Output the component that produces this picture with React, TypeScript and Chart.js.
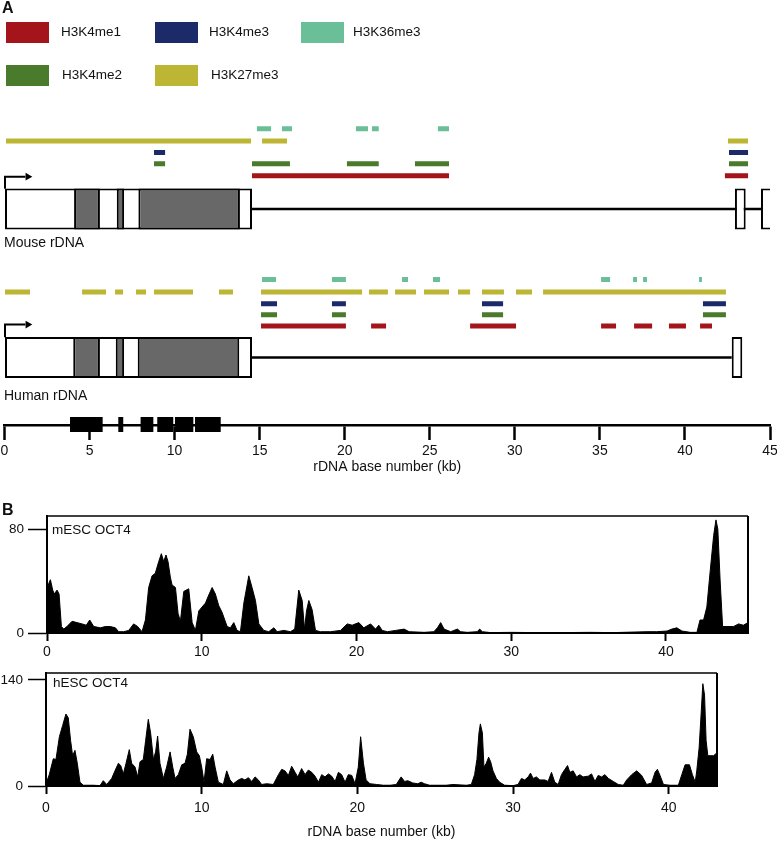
import React, { useEffect, useRef } from 'react';
import { Chart, registerables } from 'chart.js';

Chart.register(...registerables);

const FONT_FAMILY = '"Liberation Sans", Arial, Helvetica, sans-serif';
Chart.defaults.font.family = FONT_FAMILY;
Chart.defaults.color = '#111';

// ---------------- Panel A data ----------------
const MARK_LABELS = ['H3K4me1', 'H3K4me3', 'H3K36me3', 'H3K4me2', 'H3K27me3'];
const MARK_COLORS = ['#a3151a', '#1c2a6a', '#6bbf98', '#4a7b2c', '#bcb634'];

// Mouse rDNA histone mark segments, [start kb, end kb]
const MOUSE_H3K4ME1 = [[14.55, 26.13], [42.35, 43.71]];
const MOUSE_H3K4ME3 = [[8.79, 9.44], [42.59, 43.71]];
const MOUSE_H3K36ME3 = [[14.84, 15.67], [16.31, 16.9], [20.66, 21.37], [21.6, 22.0], [25.48, 26.13]];
const MOUSE_H3K4ME2 = [[8.79, 9.44], [14.55, 16.78], [20.13, 22.0], [24.13, 26.13], [42.59, 43.71]];
const MOUSE_H3K27ME3 = [[0.09, 14.49], [15.14, 16.61], [42.53, 43.71]];

// Human rDNA histone mark segments, [start kb, end kb]
const HUMAN_H3K4ME1 = [[15.08, 20.07], [21.55, 22.43], [27.37, 30.07], [35.07, 35.95], [37.01, 38.07], [39.06, 40.06], [40.89, 41.59]];
const HUMAN_H3K4ME3 = [[15.08, 16.02], [19.25, 20.07], [28.07, 29.31], [41.06, 42.41]];
const HUMAN_H3K36ME3 = [[15.14, 15.96], [19.25, 20.07], [23.37, 23.72], [25.19, 25.6], [35.07, 35.6], [36.95, 37.18], [37.54, 37.77], [40.83, 41.0]];
const HUMAN_H3K4ME2 = [[15.08, 16.02], [19.25, 20.07], [28.07, 29.31], [41.06, 42.41]];
const HUMAN_H3K27ME3 = [[0.03, 1.5], [4.56, 5.97], [6.5, 6.97], [7.73, 8.32], [8.79, 11.08], [12.61, 13.43], [15.08, 21.02], [21.43, 22.54], [22.96, 24.19], [24.66, 26.13], [26.66, 27.37], [28.07, 29.36], [30.07, 31.01], [31.66, 42.41]];

// Gene structures (kb)
const MOUSE_TRANSCRIBED = [[0, 14.55]];
const MOUSE_RRNA = [[4.09, 5.61], [6.6, 7.03], [7.87, 13.84]];
const MOUSE_DOWNSTREAM = [[42.94, 43.57], [44.47, 45.14]];
const MOUSE_SPACER = [[14.55, 44.47]];
const HUMAN_TRANSCRIBED = [[0, 14.55]];
const HUMAN_RRNA = [[4.04, 5.61], [6.54, 7.03], [7.83, 13.8]];
const HUMAN_DOWNSTREAM = [[42.75, 43.37]];
const HUMAN_SPACER = [[14.55, 42.75]];
const TSS_ARROW_KB = [0.03, 1.23];
const TSS_HEAD_KB = 1.37;

// Scale bar blocks on the kb axis
const SCALE_BLOCKS = [[3.85, 5.77], [6.69, 6.98], [8.0, 8.75], [8.98, 9.92], [10.02, 11.1], [11.2, 12.71]];
const KB_TICKS_A = [0, 5, 10, 15, 20, 25, 30, 35, 40, 45];

// ---------------- Panel B data ----------------
const KB_TICKS_B = [0, 10, 20, 30, 40];
const MESC_Y_TICKS = [0, 80];
const HESC_Y_TICKS = [0, 140];

// mESC OCT4 ChIP-seq coverage, [kb, reads]
const MESC_OCT4 = [
  [0, 33], [0.11, 38], [0.22, 41], [0.37, 33], [0.47, 30], [0.65, 33], [0.78, 30], [0.93, 5], [1.08, 3], [1.29, 5],
  [1.62, 9], [1.94, 8], [2.26, 7], [2.54, 6], [2.76, 10], [3.02, 5], [3.45, 4], [3.77, 5], [4.09, 5], [4.42, 4],
  [4.63, 1], [4.96, 1], [5.28, 2], [5.6, 7], [5.86, 5], [6.14, 1], [6.36, 10], [6.57, 35], [6.79, 44], [7.0, 46],
  [7.22, 55], [7.39, 61], [7.54, 55], [7.69, 60], [7.82, 55], [7.97, 43], [8.08, 37], [8.3, 35], [8.47, 15], [8.62, 9],
  [8.84, 32], [9.16, 34], [9.38, 8], [9.59, 2], [9.81, 17], [10.02, 20], [10.24, 23], [10.41, 28], [10.67, 35], [10.88, 30],
  [11.1, 21], [11.31, 16], [11.64, 5], [11.85, 4], [12.07, 8], [12.28, 2], [12.5, 1], [12.72, 23], [13.04, 44], [13.25, 35],
  [13.47, 25], [13.69, 7], [14.01, 2], [14.33, 1], [14.66, 4], [14.87, 1], [15.3, 2], [15.73, 1], [16.01, 3], [16.27, 33],
  [16.49, 25], [16.64, 3], [16.77, 17], [16.92, 25], [17.13, 18], [17.35, 2], [17.67, 1], [18.32, 1], [18.97, 2], [19.4, 7],
  [19.72, 6], [20.15, 8], [20.47, 4], [20.91, 7], [21.23, 3], [21.44, 6], [21.66, 2], [22.0, 1], [22.54, 2], [23.08, 3],
  [23.4, 1], [24.37, 0.5], [25.0, 1], [25.23, 4], [25.44, 8], [25.66, 3], [26.09, 1], [26.52, 3], [26.73, 1], [27.16, 0.5],
  [27.8, 1], [27.96, 3], [28.13, 1], [28.67, 0.3], [30.0, 0.5], [32.3, 0.2], [35.1, 0.5], [36.6, 0.3], [38.77, 1], [39.4, 1],
  [40.06, 1.5], [40.38, 3], [40.7, 4], [41.03, 1.5], [41.57, 0.5], [42.0, 0.5], [42.2, 10], [42.43, 10], [42.64, 20], [42.86, 48],
  [43.08, 75], [43.23, 87], [43.35, 80], [43.5, 40], [43.66, 5], [43.94, 5], [44.37, 5], [44.69, 7], [45.0, 6], [45.3, 8],
];

// hESC OCT4 ChIP-seq coverage, [kb, reads]
const HESC_OCT4 = [
  [0, 3], [0.21, 15], [0.47, 36], [0.64, 35], [0.86, 65], [1.07, 80], [1.28, 95], [1.43, 90], [1.58, 60], [1.71, 40],
  [1.86, 47], [2.01, 30], [2.18, 5], [2.4, 1], [3.04, 1], [3.47, 0.5], [3.68, 7], [3.9, 2], [4.22, 10], [4.43, 20],
  [4.65, 30], [4.8, 27], [4.97, 16], [5.14, 30], [5.35, 48], [5.5, 30], [5.72, 25], [5.89, 12], [6.04, 32], [6.25, 35],
  [6.4, 60], [6.57, 88], [6.72, 70], [6.9, 35], [7.04, 45], [7.17, 66], [7.32, 30], [7.54, 10], [7.75, 25], [7.97, 45],
  [8.14, 25], [8.29, 10], [8.5, 15], [8.72, 28], [8.93, 30], [9.08, 42], [9.25, 75], [9.46, 65], [9.68, 45], [9.85, 40],
  [10.0, 25], [10.15, 5], [10.32, 36], [10.54, 35], [10.71, 42], [10.86, 25], [11.07, 5], [11.39, 2], [11.61, 20], [11.82, 8],
  [12.03, 3], [12.36, 8], [12.57, 10], [12.78, 8], [13.0, 11], [13.21, 6], [13.43, 12], [13.64, 8], [13.85, 2], [14.18, 3],
  [14.6, 2], [14.93, 15], [15.14, 22], [15.35, 20], [15.57, 14], [15.78, 26], [16.0, 18], [16.17, 12], [16.42, 23], [16.64, 15],
  [16.85, 21], [17.07, 18], [17.28, 13], [17.5, 5], [17.71, 15], [17.92, 12], [18.14, 16], [18.35, 13], [18.57, 6], [18.78, 18],
  [18.99, 15], [19.21, 5], [19.42, 15], [19.64, 14], [19.85, 3], [20.06, 25], [20.21, 65], [20.39, 30], [20.56, 8], [20.81, 3],
  [21.24, 2], [21.67, 1], [22.1, 1], [22.5, 2], [22.81, 12], [23.03, 6], [23.24, 7], [23.56, 4], [23.88, 3], [24.1, 5],
  [24.31, 3], [24.64, 1], [25.7, 1], [26.14, 2], [27.0, 1], [27.32, 2], [27.53, 15], [27.68, 35], [27.81, 70], [27.9, 82],
  [28.03, 70], [28.13, 25], [28.28, 30], [28.43, 38], [28.56, 32], [28.71, 20], [28.93, 10], [29.14, 5], [29.46, 1], [30.0, 0.5],
  [30.32, 2], [30.54, 10], [30.75, 8], [30.97, 12], [31.12, 17], [31.29, 10], [31.5, 12], [31.72, 8], [32.04, 8], [32.25, 6],
  [32.47, 18], [32.68, 5], [32.9, 2], [33.11, 15], [33.33, 22], [33.5, 27], [33.65, 18], [33.86, 20], [34.08, 12], [34.29, 15],
  [34.5, 12], [34.83, 13], [35.04, 16], [35.26, 6], [35.47, 14], [35.69, 12], [35.9, 15], [36.12, 10], [36.44, 6], [36.76, 2],
  [37.08, 1], [37.3, 8], [37.62, 15], [37.94, 20], [38.26, 14], [38.58, 2], [38.9, 4], [39.12, 18], [39.27, 22], [39.44, 14],
  [39.66, 2], [40.09, 1], [40.62, 1], [40.84, 15], [41.05, 28], [41.33, 28], [41.52, 15], [41.7, 5], [41.8, 20], [41.95, 50],
  [42.08, 95], [42.19, 135], [42.3, 120], [42.4, 60], [42.51, 40], [42.66, 40], [42.88, 40], [43.05, 43], [43.1, 43],
];

// ---------------- Layout (pixel rows of panel A; y scale is in page pixels) ----------------
const A_ROWS = {
  mouse: { H3K36me3: 125.5, H3K27me3: 138, H3K4me3: 149.5, H3K4me2: 161, H3K4me1: 173, gene: 206.7, tssTop: 174 },
  human: { H3K36me3: 278, H3K27me3: 290.7, H3K4me3: 302.5, H3K4me2: 313.5, H3K4me1: 325, gene: 356.7, tssTop: 323.5 },
  scale: 424.5,
};
const GENE_THICKNESS = 41;
const GRAY = '#686868';
const LEGEND_SLOTS = [
  { x: 6, y: 22, tx: 61 },
  { x: 155, y: 22, tx: 209 },
  { x: 301, y: 22, tx: 353 },
  { x: 6, y: 65, tx: 62 },
  { x: 155, y: 65, tx: 211 },
];

const MOUSE_MARKS: Record<string, number[][]> = {
  H3K4me1: MOUSE_H3K4ME1, H3K4me3: MOUSE_H3K4ME3, H3K36me3: MOUSE_H3K36ME3, H3K4me2: MOUSE_H3K4ME2, H3K27me3: MOUSE_H3K27ME3,
};
const HUMAN_MARKS: Record<string, number[][]> = {
  H3K4me1: HUMAN_H3K4ME1, H3K4me3: HUMAN_H3K4ME3, H3K36me3: HUMAN_H3K36ME3, H3K4me2: HUMAN_H3K4ME2, H3K27me3: HUMAN_H3K27ME3,
};

type TextItem = { text: string; x: number; y: number; size: number; bold?: boolean };

const segPoints = (segs: number[][], y: number) =>
  segs.flatMap(([s, e]) => [{ x: s, y }, { x: e, y }, { x: e, y: null as any }]);

const lineDs = (segs: number[][], y: number, color: string, width: number, order: number) => ({
  type: 'line',
  data: segPoints(segs, y),
  borderColor: color,
  backgroundColor: color,
  borderWidth: width,
  borderCapStyle: 'butt',
  pointRadius: 0,
  spanGaps: false,
  fill: false,
  clip: false,
  order,
});

const textPlugin = (id: string, items: TextItem[], legend: boolean) => ({
  id,
  afterDraw(chart: any) {
    const ctx = chart.ctx;
    ctx.save();
    ctx.textBaseline = 'middle';
    ctx.textAlign = 'left';
    if (legend) {
      LEGEND_SLOTS.forEach((slot, i) => {
        ctx.fillStyle = MARK_COLORS[i];
        ctx.fillRect(slot.x, slot.y, 43, 21);
        ctx.fillStyle = '#111';
        ctx.font = `13.5px ${FONT_FAMILY}`;
        ctx.fillText(MARK_LABELS[i], slot.tx, slot.y + 10.5);
      });
    }
    ctx.fillStyle = '#111';
    for (const it of items) {
      ctx.font = `${it.bold ? 'bold ' : ''}${it.size}px ${FONT_FAMILY}`;
      ctx.fillText(it.text, it.x, it.y);
    }
    ctx.restore();
  },
});

const framePlugin = {
  id: 'frame',
  afterDatasetsDraw(chart: any) {
    const { ctx, chartArea: a } = chart;
    ctx.save();
    ctx.strokeStyle = '#000';
    ctx.lineWidth = 1.5;
    ctx.beginPath();
    ctx.moveTo(a.left, a.top);
    ctx.lineTo(a.right, a.top);
    ctx.stroke();
    ctx.lineWidth = 2;
    ctx.beginPath();
    ctx.moveTo(a.right, a.top);
    ctx.lineTo(a.right, a.bottom);
    ctx.stroke();
    ctx.restore();
  },
};

function panelAConfig(): any {
  const datasets: any[] = [];
  // spacer lines (beneath boxes)
  datasets.push(lineDs(MOUSE_SPACER, A_ROWS.mouse.gene, '#000', 2.5, 10));
  datasets.push(lineDs(HUMAN_SPACER, A_ROWS.human.gene, '#000', 2.5, 10));
  // gene boxes
  const bars: any[] = [];
  const addBars = (segs: number[][], y: number, fill: string) =>
    segs.forEach((s) => bars.push({ x: s, y, fill }));
  addBars([...MOUSE_TRANSCRIBED, ...MOUSE_DOWNSTREAM], A_ROWS.mouse.gene, '#fff');
  addBars(MOUSE_RRNA, A_ROWS.mouse.gene, GRAY);
  addBars([...HUMAN_TRANSCRIBED, ...HUMAN_DOWNSTREAM], A_ROWS.human.gene, '#fff');
  addBars(HUMAN_RRNA, A_ROWS.human.gene, GRAY);
  datasets.push({
    type: 'bar',
    indexAxis: 'y',
    data: bars,
    barThickness: GENE_THICKNESS,
    borderWidth: 2,
    borderColor: '#000',
    borderSkipped: false,
    inflateAmount: 0,
    backgroundColor: (c: any) => (c.raw && c.raw.fill) || '#fff',
    order: 5,
  });
  // TSS arrows
  [A_ROWS.mouse, A_ROWS.human].forEach((row) => {
    const boxTop = row.gene - GENE_THICKNESS / 2;
    datasets.push({
      type: 'line',
      data: [
        { x: TSS_ARROW_KB[0], y: boxTop },
        { x: TSS_ARROW_KB[0], y: row.tssTop },
        { x: TSS_ARROW_KB[1], y: row.tssTop },
      ],
      borderColor: '#000',
      borderWidth: 2,
      borderJoinStyle: 'miter',
      pointRadius: 0,
      fill: false,
      clip: false,
      order: 1,
    });
    datasets.push({
      type: 'line',
      data: [{ x: TSS_HEAD_KB, y: row.tssTop }],
      showLine: false,
      pointStyle: 'triangle',
      rotation: 90,
      pointRadius: 4.5,
      pointBackgroundColor: '#000',
      pointBorderColor: '#000',
      pointBorderWidth: 0,
      clip: false,
      order: 1,
    });
  });
  // histone mark tracks
  MARK_LABELS.forEach((m, i) => {
    datasets.push(lineDs(MOUSE_MARKS[m], (A_ROWS.mouse as any)[m], MARK_COLORS[i], 5, 2));
    datasets.push(lineDs(HUMAN_MARKS[m], (A_ROWS.human as any)[m], MARK_COLORS[i], 5, 2));
  });
  // scale bar blocks on axis
  datasets.push(lineDs(SCALE_BLOCKS, A_ROWS.scale, '#000', 15, 0));

  const texts: TextItem[] = [
    { text: 'A', x: 2, y: 8.5, size: 16, bold: true },
    { text: 'Mouse rDNA', x: 4, y: 243.5, size: 14 },
    { text: 'Human rDNA', x: 4, y: 396, size: 14 },
  ];

  return {
    type: 'line',
    data: { datasets },
    options: {
      responsive: false,
      animation: false,
      events: [],
      layout: { padding: { left: 4.5, right: 7, top: 0, bottom: 0 } },
      plugins: { legend: { display: false }, tooltip: { enabled: false } },
      scales: {
        x: {
          type: 'linear',
          min: 0,
          max: 45,
          offset: false,
          stacked: false,
          afterBuildTicks: (s: any) => {
            s.ticks = KB_TICKS_A.map((v) => ({ value: v }));
          },
          afterFit: (s: any) => {
            s.height = 55;
            s.paddingRight = 0;
            s.paddingLeft = 0;
          },
          ticks: { font: { size: 14 }, padding: 3, maxRotation: 0, autoSkip: false, color: '#111' },
          grid: { offset: false, drawOnChartArea: false, tickLength: 15, tickWidth: 2.5, tickColor: '#000' },
          border: { display: true, color: '#000', width: 2.5 },
          title: {
            display: true,
            text: 'rDNA base number (kb)',
            font: { size: 14 },
            color: '#111',
            padding: { top: 0, bottom: 4 },
          },
        },
        y: { type: 'linear', min: 0, max: 425, reverse: true, display: false, offset: false, grid: { offset: false } },
      },
    },
    plugins: [textPlugin('panelAText', texts, true)],
  };
}

type ProfileOpts = {
  points: number[][];
  xMax: number;
  yMax: number;
  yTicks: number[];
  padTop: number;
  padRight: number;
  xAxisHeight: number;
  yAxisWidth: number;
  xTickPadding: number;
  yTickLength: number;
  yTickPadding: number;
  withTitle: boolean;
  texts: TextItem[];
};

function profileConfig(o: ProfileOpts): any {
  return {
    type: 'line',
    data: {
      datasets: [
        {
          data: o.points.map(([x, y]) => ({ x, y })),
          borderColor: '#000',
          backgroundColor: '#000',
          borderWidth: 1,
          pointRadius: 0,
          fill: 'origin',
          tension: 0,
        },
      ],
    },
    options: {
      responsive: false,
      animation: false,
      events: [],
      layout: { padding: { left: 0, right: o.padRight, top: o.padTop, bottom: 0 } },
      plugins: { legend: { display: false }, tooltip: { enabled: false } },
      scales: {
        x: {
          type: 'linear',
          min: 0,
          max: o.xMax,
          offset: false,
          afterBuildTicks: (s: any) => {
            s.ticks = KB_TICKS_B.map((v) => ({ value: v }));
          },
          afterFit: (s: any) => {
            s.height = o.xAxisHeight;
          },
          ticks: { font: { size: 14 }, padding: o.xTickPadding, maxRotation: 0, autoSkip: false, color: '#111' },
          grid: { offset: false, drawOnChartArea: false, tickLength: 8, tickWidth: 2, tickColor: '#000' },
          border: { display: true, color: '#000', width: 2 },
          title: {
            display: o.withTitle,
            text: 'rDNA base number (kb)',
            font: { size: 14 },
            color: '#111',
            padding: { top: 0, bottom: 0 },
          },
        },
        y: {
          type: 'linear',
          min: 0,
          max: o.yMax,
          offset: false,
          afterBuildTicks: (s: any) => {
            s.ticks = o.yTicks.map((v) => ({ value: v }));
          },
          afterFit: (s: any) => {
            s.width = o.yAxisWidth;
          },
          ticks: { font: { size: 13.5 }, padding: o.yTickPadding, color: '#111' },
          grid: { offset: false, drawOnChartArea: false, tickLength: o.yTickLength, tickWidth: 1.5, tickColor: '#000' },
          border: { display: true, color: '#000', width: 2 },
        },
      },
    },
    plugins: [framePlugin, textPlugin('profileText', o.texts, false)],
  };
}

function ChartCanvas({ make, left, top, width, height }: { make: () => any; left: number; top: number; width: number; height: number }) {
  const ref = useRef<HTMLCanvasElement | null>(null);
  useEffect(() => {
    if (!ref.current) return;
    const chart = new Chart(ref.current, make());
    return () => chart.destroy();
  }, []);
  return (
    <canvas
      ref={ref}
      width={width}
      height={height}
      style={{ position: 'absolute', left, top, width, height, display: 'block' }}
    />
  );
}

export default function App() {
  return (
    <div style={{ position: 'absolute', left: 0, top: 0, width: 777, height: 841, background: '#fff', overflow: 'hidden' }}>
      <ChartCanvas make={panelAConfig} left={0} top={0} width={777} height={480} />
      <ChartCanvas
        make={() =>
          profileConfig({
            points: MESC_OCT4,
            xMax: 45.3,
            yMax: 90,
            yTicks: MESC_Y_TICKS,
            padTop: 16,
            padRight: 29,
            xAxisHeight: 37,
            yAxisWidth: 47,
            xTickPadding: 3,
            yTickLength: 19,
            yTickPadding: 4,
            withTitle: false,
            texts: [
              { text: 'B', x: 2, y: 11, size: 16, bold: true },
              { text: 'mESC OCT4', x: 52, y: 30, size: 13.5 },
            ],
          })
        }
        left={0}
        top={500}
        width={777}
        height={170}
      />
      <ChartCanvas
        make={() =>
          profileConfig({
            points: HESC_OCT4,
            xMax: 43.1,
            yMax: 149,
            yTicks: HESC_Y_TICKS,
            padTop: 11,
            padRight: 60,
            xAxisHeight: 55,
            yAxisWidth: 46,
            xTickPadding: 6,
            yTickLength: 18,
            yTickPadding: 5,
            withTitle: true,
            texts: [{ text: 'hESC OCT4', x: 53, y: 23, size: 13.5 }],
          })
        }
        left={0}
        top={660}
        width={777}
        height={181}
      />
    </div>
  );
}
